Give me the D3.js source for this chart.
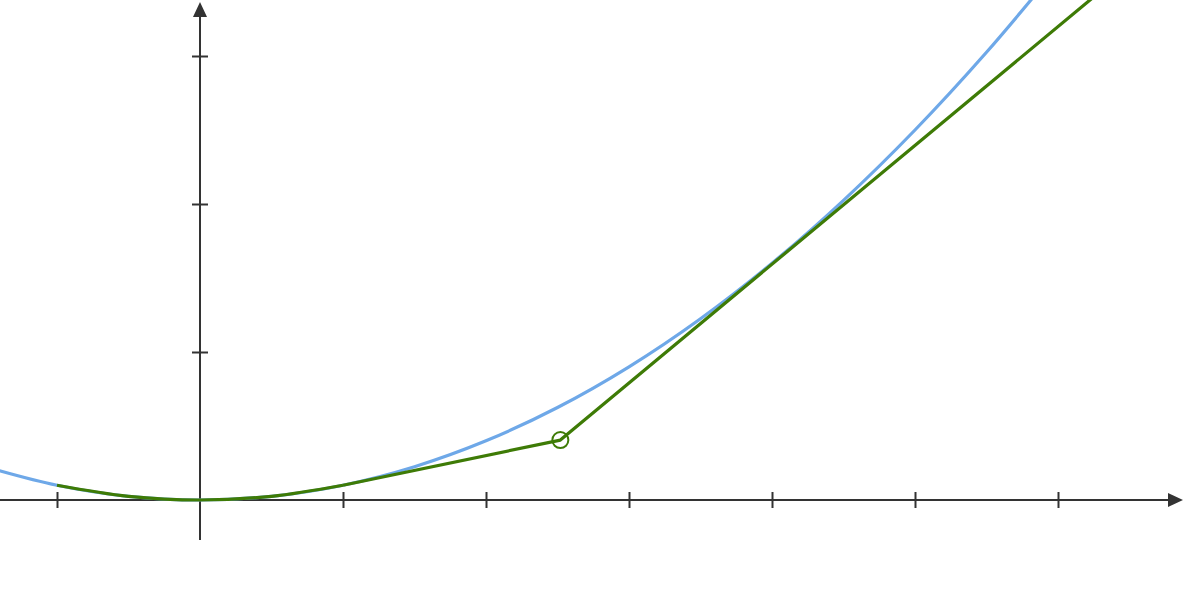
<!DOCTYPE html>
<html>
<head>
<meta charset="utf-8">
<script src="https://cdn.jsdelivr.net/npm/d3@7"></script>
<style>
  body { margin: 0; background: #fff; }
  svg { display: block; }
</style>
</head>
<body>
<div id="chart"></div>
<script>
const WIDTH = 1183, HEIGHT = 590;
const AXIS_COLOR = "#333333";

// blue curve
const curveX = [-1.5, -1, -0.5, 0, 0.5, 1, 1.5, 2, 2.5, 3, 3.5, 4, 4.5, 5, 5.5, 6];
const curveY = [0.225, 0.1, 0.025, 0, 0.025, 0.1, 0.225, 0.4, 0.625, 0.9, 1.225, 1.6, 2.025, 2.5, 3.025, 3.6];

// green: curved part near the origin, then two straight pieces
const greenCurveX = [-1, -0.5, 0, 0.5, 1];
const greenCurveY = [0.1, 0.025, 0, 0.025, 0.1];
const greenLineX = [1, 2.52, 6.5];
const greenLineY = [0.1, 0.405, 3.6];

// marked point (knot)
const knot = { x: 2.52, y: 0.405 };

const xTicks = [-1, 1, 2, 3, 4, 5, 6];
const yTicks = [1, 2, 3];

const svg = d3.select("#chart").append("svg")
    .attr("width", WIDTH)
    .attr("height", HEIGHT);

const x = d3.scaleLinear().domain([-1, 6]).range([57, 1058]);
const y = d3.scaleLinear().domain([0, 3]).range([500, 56]);

// axes
const axisG = svg.append("g");
axisG.append("line")
    .attr("x1", 0).attr("x2", 1170)
    .attr("y1", y(0)).attr("y2", y(0))
    .attr("stroke", AXIS_COLOR).attr("stroke-width", 2);
axisG.append("path")
    .attr("d", `M1183,${y(0)} L1168,${y(0) - 7} L1168,${y(0) + 7} Z`)
    .attr("fill", AXIS_COLOR);

axisG.append("line")
    .attr("x1", x(0)).attr("x2", x(0))
    .attr("y1", 540).attr("y2", 15)
    .attr("stroke", AXIS_COLOR).attr("stroke-width", 2);
axisG.append("path")
    .attr("d", `M${x(0)},2 L${x(0) - 7},17 L${x(0) + 7},17 Z`)
    .attr("fill", AXIS_COLOR);

// tick marks crossing the axes
const xAxis = d3.axisBottom(x).tickValues(xTicks).tickSize(16).tickFormat("");
axisG.append("g")
    .attr("transform", `translate(0, ${y(0) - 8})`)
    .call(xAxis)
    .call(g => g.select(".domain").remove())
    .call(g => g.selectAll(".tick line").attr("stroke", AXIS_COLOR).attr("stroke-width", 2));

const yAxis = d3.axisLeft(y).tickValues(yTicks).tickSize(16).tickFormat("");
axisG.append("g")
    .attr("transform", `translate(${x(0) + 8}, 0)`)
    .call(yAxis)
    .call(g => g.select(".domain").remove())
    .call(g => g.selectAll(".tick line").attr("stroke", AXIS_COLOR).attr("stroke-width", 2));

// curves
const smooth = d3.line()
    .x(d => x(d[0]))
    .y(d => y(d[1]))
    .curve(d3.curveCatmullRom.alpha(0.5));

const straight = d3.line()
    .x(d => x(d[0]))
    .y(d => y(d[1]));

svg.append("path")
    .attr("d", smooth(d3.zip(curveX, curveY)))
    .attr("fill", "none")
    .attr("stroke", "#6ea8e8")
    .attr("stroke-width", 3.2);

svg.append("path")
    .attr("d", smooth(d3.zip(greenCurveX, greenCurveY)))
    .attr("fill", "none")
    .attr("stroke", "#3e7b06")
    .attr("stroke-width", 3.2);

svg.append("path")
    .attr("d", straight(d3.zip(greenLineX, greenLineY)))
    .attr("fill", "none")
    .attr("stroke", "#3e7b06")
    .attr("stroke-width", 3.2)
    .attr("stroke-linejoin", "round");

svg.append("circle")
    .attr("cx", x(knot.x))
    .attr("cy", y(knot.y))
    .attr("r", 8)
    .attr("fill", "none")
    .attr("stroke", "#3e7b06")
    .attr("stroke-width", 2);
</script>
</body>
</html>
